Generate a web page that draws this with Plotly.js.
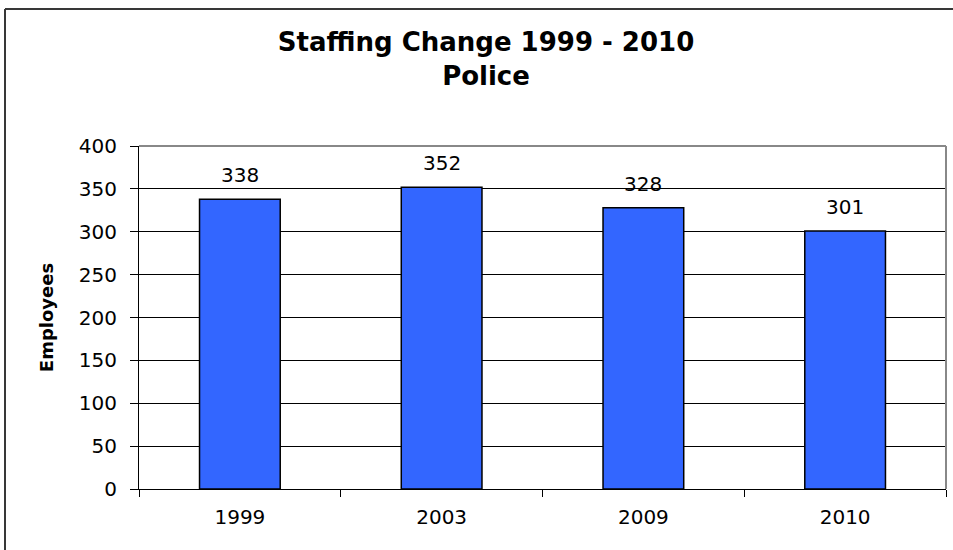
<!DOCTYPE html>
<html>
<head>
<meta charset="utf-8">
<script src="https://cdn.plot.ly/plotly-3.0.1.min.js"></script>
<style>
  html, body { margin: 0; padding: 0; background: #fff; overflow: hidden; width: 953px; height: 550px; }
  #chart { position: absolute; left: 0; top: 0; width: 953px; height: 550px; overflow: hidden; }
</style>
</head>
<body>
<div id="chart"></div>
<script>
const categories = ["1999", "2003", "2009", "2010"];
const employees = [338, 352, 328, 301];
const yTicks = [0, 50, 100, 150, 200, 250, 300, 350, 400];

const FONT = "DejaVu Sans, Arial, sans-serif";

const M = { l: 139, r: 7, t: 146, b: 61 };
const W = 953, H = 550;
const pw = W - M.l - M.r, ph = H - M.t - M.b;
// helpers to place the outer chart frame (decoration) in paper coordinates
const px2x = p => (p - M.l) / pw;
const px2y = p => (H - M.b - p) / ph;

const trace = {
  type: "bar",
  x: categories,
  y: employees,
  marker: { color: "#3366FF", line: { color: "#000000", width: 1.5 } },
  width: 0.4,
  hoverinfo: "x+y"
};

// category axis: annotations placed by category index
const annotations = categories.map((c, i) => ({
  x: i, y: employees[i], xref: "x", yref: "y",
  text: String(employees[i]), showarrow: false,
  yanchor: "middle", yshift: 24,
  font: { family: FONT, size: 20, color: "#000" }
}));

const layout = {
  width: W, height: H,
  margin: M,
  paper_bgcolor: "#ffffff",
  plot_bgcolor: "#ffffff",
  showlegend: false,
  title: {
    text: "<b>Staffing Change 1999 - 2010<br>Police</b>",
    font: { family: FONT, size: 26, color: "#000" },
    xref: "container", x: 0.510, xanchor: "center",
    yref: "container", y: 1 - 51/550, yanchor: "top"
  },
  xaxis: {
    type: "category",
    range: [-0.5, categories.length - 0.5],
    autorange: false,
    showline: true, linecolor: "#000", linewidth: 1,
    ticks: "outside", tickson: "boundaries", ticklen: 7, tickcolor: "#000",
    showgrid: false,
    tickfont: { family: FONT, size: 20, color: "#000" },
    ticklabelstandoff: 10,
    fixedrange: true
  },
  yaxis: {
    range: [0, 400],
    autorange: false,
    tickvals: yTicks,
    showline: true, linecolor: "#000", linewidth: 1,
    ticks: "outside", ticklen: 8, tickcolor: "#000",
    showgrid: true, gridcolor: "#000", gridwidth: 1,
    zeroline: false,
    tickfont: { family: FONT, size: 20, color: "#000" },
    ticklabelstandoff: 9,
    title: { text: "<b>Employees</b>", font: { family: FONT, size: 18, color: "#000" }, standoff: 20 },
    fixedrange: true
  },
  shapes: [
    { type: "line", xref: "paper", yref: "paper", x0: 0, x1: 1, y0: 1, y1: 1,
      line: { color: "#888888", width: 2 }, layer: "above" },
    { type: "line", xref: "paper", yref: "paper", x0: 1, x1: 1, y0: 0, y1: 1,
      line: { color: "#888888", width: 2 }, layer: "above" },
    // outer chart frame (top and left edges only; the rest is outside the picture)
    { type: "line", xref: "paper", yref: "paper", x0: px2x(5), x1: px2x(W), y0: px2y(9), y1: px2y(9),
      line: { color: "#383838", width: 2 }, layer: "above" },
    { type: "line", xref: "paper", yref: "paper", x0: px2x(5), x1: px2x(5), y0: px2y(9), y1: px2y(H),
      line: { color: "#383838", width: 2 }, layer: "above" }
  ],
  annotations: annotations
};

Plotly.newPlot("chart", [trace], layout, { staticPlot: true, displayModeBar: false });
</script>
</body>
</html>
